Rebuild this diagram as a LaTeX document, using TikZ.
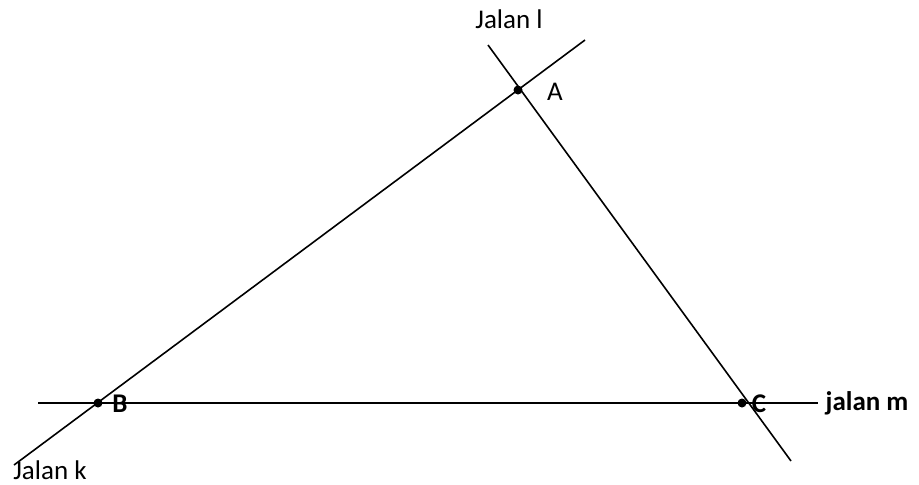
\documentclass[tikz,border=0pt]{standalone}
\usepackage{fontspec}
\setmainfont{Carlito}
\begin{document}
\begin{tikzpicture}[x=0.5pt, y=-0.5pt, every node/.style={font=\fontsize{13.5}{16}\selectfont}]
\useasboundingbox (0,0) rectangle (919,484);
\node[circle, fill, inner sep=0pt, minimum size=4.5pt] (A) at (518,90) {};
\node[circle, fill, inner sep=0pt, minimum size=4.5pt] (B) at (98,403) {};
\node[circle, fill, inner sep=0pt, minimum size=4.5pt] (C) at (742,403) {};
\coordinate (k1) at (14,465);
\coordinate (k2) at (585,40);
\coordinate (l1) at (488,45);
\coordinate (l2) at (791,461);
\coordinate (m1) at (38,403);
\coordinate (m2) at (818,403);
\draw[thick] (k1) -- (k2);
\draw[thick] (l1) -- (l2);
\draw[thick] (m1) -- (m2);
\node (lA) at (555,92) {A};
\node (lB) at (120,404) {\bfseries B};
\node (lC) at (759,404) {\bfseries C};
\node (lk) at (50,470) {Jalan k};
\node (ll) at (509,19) {Jalan l};
\node (lm) at (867,403) {\bfseries jalan m};
\end{tikzpicture}
\end{document}
